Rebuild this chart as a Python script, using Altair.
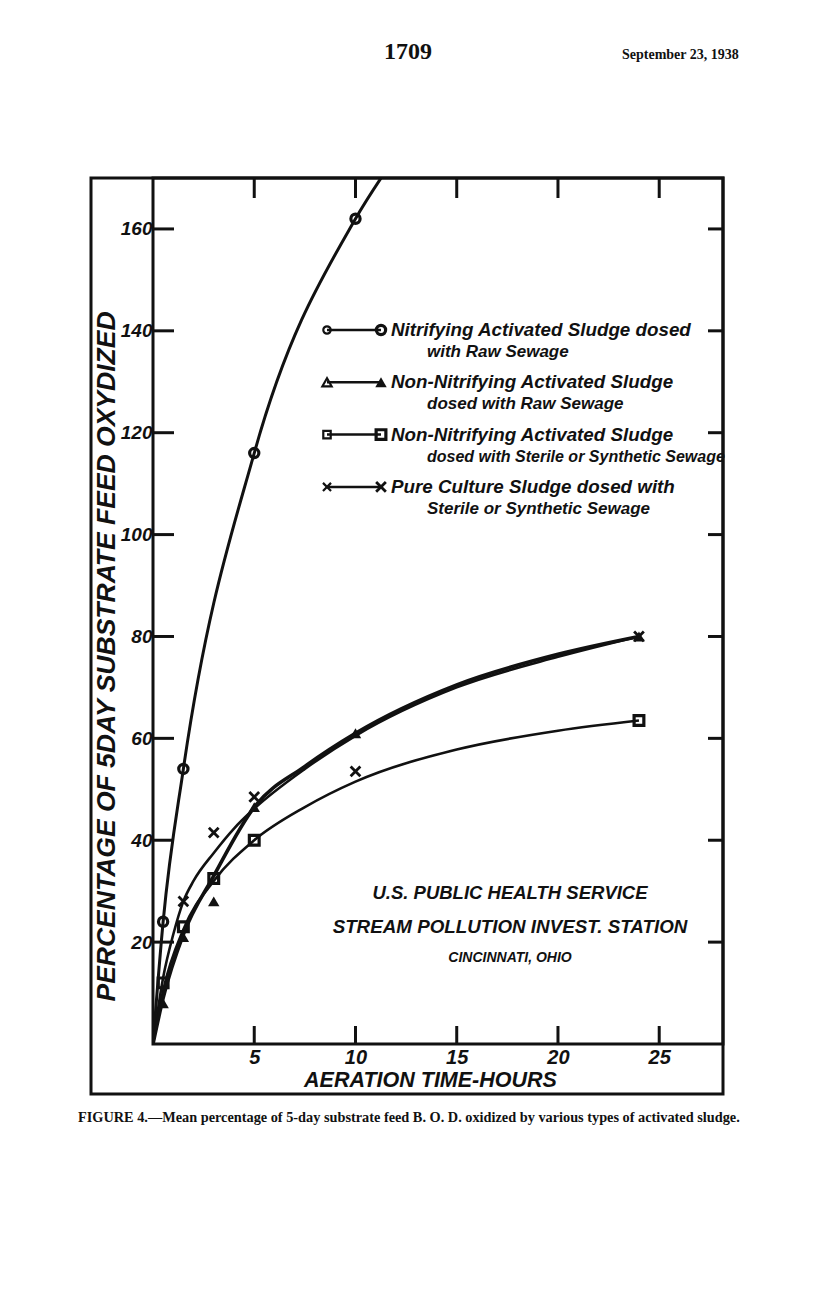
import altair as alt
import pandas as pd

# ---------------- measured points (hours, percent) ----------------
circle_hours = [0.5, 1.5, 5, 10]
circle_pct = [24, 54, 116, 162]

tri_hours = [0.5, 1.5, 3, 5, 10, 24]
tri_pct = [8, 21, 28, 46.5, 61, 80]

square_hours = [0.5, 1.5, 3, 5, 24]
square_pct = [12, 23, 32.5, 40, 63.5]

cross_hours = [1.5, 3, 5, 10, 24]
cross_pct = [28, 41.5, 48.5, 53.5, 80]

# ---------------- fitted (hand drawn) curves ----------------
nit_curve_hours = [0, 0.5, 1.5, 5, 10, 11.6]
nit_curve_pct = [0, 24, 54, 116, 162, 172]

tri_curve_hours = [0, 0.5, 1.5, 3, 5, 7.5, 10, 15, 20, 24]
tri_curve_pct = [0, 9, 21.5, 33, 46.5, 54.5, 61, 70.5, 76.5, 80]

square_curve_hours = [0, 0.5, 1.5, 3, 5, 7.5, 10, 15, 20, 24]
square_curve_pct = [0, 10.5, 22.5, 32, 40, 46.5, 51.5, 57.8, 61.5, 63.5]

cross_curve_hours = [0, 0.5, 1, 1.5, 2, 3, 4, 5, 7.5, 10, 15, 20, 24]
cross_curve_pct = [0, 13, 21.5, 28, 32, 37.5, 42.3, 46.2, 54, 60.5, 70, 76, 80]

x_tick_values = [5, 10, 15, 20, 25]
y_tick_values = [20, 40, 60, 80, 100, 120, 140, 160]

legend_line1 = [
    "Nitrifying Activated Sludge dosed",
    "Non-Nitrifying  Activated Sludge",
    "Non-Nitrifying Activated Sludge",
    "Pure Culture Sludge dosed with",
]
legend_line2 = [
    "with Raw Sewage",
    "dosed with Raw Sewage",
    "dosed with Sterile or Synthetic Sewage",
    "Sterile or Synthetic Sewage",
]
annotation_lines = [
    "U.S. PUBLIC HEALTH SERVICE",
    "STREAM POLLUTION INVEST. STATION",
    "CINCINNATI, OHIO",
]
page_number = "1709"
page_date = "September 23, 1938"
caption = ("FIGURE 4.\u2014Mean percentage of 5-day substrate feed B. O. D. "
           "oxidized by various types of activated sludge.")
x_title = "AERATION TIME-HOURS"
y_title = "PERCENTAGE OF 5DAY SUBSTRATE FEED OXYDIZED"

# ---------------- layout / style ----------------
W, H = 570, 866
HAND = "Liberation Sans"
SERIF = "Liberation Serif"
INK = "#111111"

xs = alt.Scale(domain=[0, 28.15], nice=False, zero=False)
ys = alt.Scale(domain=[0, 170], nice=False, zero=False)

x_axis = alt.Axis(
    values=x_tick_values, ticks=False, domain=False, grid=False,
    labelFont=HAND, labelFontSize=20, labelFontStyle="italic",
    labelFontWeight="bold", labelColor=INK, labelPadding=3,
    title=x_title, titleFont=HAND, titleFontSize=21.5, titleFontStyle="italic",
    titleFontWeight="bold", titleColor=INK, titleX=277, titleY=36,
    titleBaseline="middle", titleAlign="center",
)
y_axis = alt.Axis(
    values=y_tick_values, ticks=False, domain=False, grid=False, format="d",
    labelFont=HAND, labelFontSize=19, labelFontStyle="italic",
    labelFontWeight="bold", labelColor=INK, labelPadding=1,
    title=y_title, titleFont=HAND, titleFontSize=26.5, titleFontStyle="italic",
    titleFontWeight="bold", titleColor=INK, titleAngle=270, titleX=-47,
    titleY=478, titleBaseline="middle", titleAlign="center",
)

X_PATH = "M-1,-1L1,1M1,-1L-1,1"
marker_styles = [
    dict(shape="circle", filled=False, strokeWidth=3.2, size=85),
    dict(shape="triangle-up", filled=True, size=130),
    dict(shape="square", filled=False, strokeWidth=3.2, size=95),
    dict(shape=X_PATH, filled=False, strokeWidth=2.8, size=95),
]
legend_open_styles = [
    dict(shape="circle", filled=False, strokeWidth=2.2, size=55),
    dict(shape="triangle-up", filled=False, strokeWidth=2.2, size=85),
    dict(shape="square", filled=False, strokeWidth=2.2, size=55),
    dict(shape=X_PATH, filled=False, strokeWidth=2.2, size=65),
]

one = pd.DataFrame({"k": [0]})


def xq(field):
    return alt.X(field, type="quantitative", scale=xs, axis=x_axis)


def yq(field):
    return alt.Y(field, type="quantitative", scale=ys, axis=y_axis)


def curve(hours, pct, width):
    df = pd.DataFrame({"hours": hours, "pct": pct})
    return alt.Chart(df).mark_line(
        interpolate="monotone", color=INK, strokeWidth=width, clip=True
    ).encode(x=xq("hours"), y=yq("pct"))


def points(hours, pct, style):
    df = pd.DataFrame({"hours": hours, "pct": pct})
    return alt.Chart(df).mark_point(color=INK, opacity=1, **style).encode(
        x=xq("hours"), y=yq("pct"))


def text_at(label, x, y, size, font=HAND, style="italic", weight="bold",
            align="left", baseline="middle"):
    df = pd.DataFrame({"label": [label]})
    return alt.Chart(df).mark_text(
        font=font, fontSize=size, fontStyle=style, fontWeight=weight,
        align=align, baseline=baseline, color=INK
    ).encode(text="label:N", x=alt.value(x), y=alt.value(y))


xt = pd.DataFrame({"v": x_tick_values})
yt = pd.DataFrame({"v": y_tick_values})

top_ticks = alt.Chart(xt).mark_rule(color=INK, strokeWidth=3).encode(
    x=xq("v"), y=alt.value(0), y2=alt.value(20))
bottom_ticks = alt.Chart(xt).mark_rule(color=INK, strokeWidth=3).encode(
    x=xq("v"), y=alt.value(H), y2=alt.value(H - 18))
left_ticks = alt.Chart(yt).mark_rule(color=INK, strokeWidth=3).encode(
    y=yq("v"), x=alt.value(0), x2=alt.value(21))
right_ticks = alt.Chart(yt).mark_rule(color=INK, strokeWidth=3).encode(
    y=yq("v"), x=alt.value(W), x2=alt.value(W - 15))

outer_frame = alt.Chart(one).mark_rect(
    fillOpacity=0, stroke=INK, strokeWidth=3
).encode(x=alt.value(-62), x2=alt.value(W), y=alt.value(0), y2=alt.value(916))

layers = [outer_frame, top_ticks, bottom_ticks, left_ticks, right_ticks]

# curves
layers += [
    curve(nit_curve_hours, nit_curve_pct, 3),
    curve(square_curve_hours, square_curve_pct, 2.6),
    curve(cross_curve_hours, cross_curve_pct, 2.6),
    curve(tri_curve_hours, tri_curve_pct, 3.6),
]
# markers
layers += [
    points(circle_hours, circle_pct, marker_styles[0]),
    points(tri_hours, tri_pct, marker_styles[1]),
    points(square_hours, square_pct, marker_styles[2]),
    points(cross_hours, cross_pct, marker_styles[3]),
]

# hand drawn legend block
for i in range(4):
    ry = 152 + i * 52.3
    layers.append(alt.Chart(one).mark_rule(color=INK, strokeWidth=2.5).encode(
        x=alt.value(174), x2=alt.value(228), y=alt.value(ry)))
    layers.append(alt.Chart(one).mark_point(color=INK, opacity=1, **legend_open_styles[i]).encode(
        x=alt.value(174), y=alt.value(ry)))
    layers.append(alt.Chart(one).mark_point(color=INK, opacity=1, **marker_styles[i]).encode(
        x=alt.value(228), y=alt.value(ry)))
    layers.append(text_at(legend_line1[i], 238, ry, 18.8))
    size2 = 16 if len(legend_line2[i]) > 30 else 17
    layers.append(text_at(legend_line2[i], 274, ry + 22, size2))

# station annotation
ann_y = [715, 749, 780]
ann_size = [18.5, 18.8, 14]
for line, yy, sz in zip(annotation_lines, ann_y, ann_size):
    layers.append(text_at(line, 357, yy, sz, align="center"))

# page header and caption
layers.append(text_at(page_number, 255, -126, 24, font=SERIF, style="normal", align="center"))
layers.append(text_at(page_date, 469, -123, 14, font=SERIF, style="normal"))
layers.append(text_at(caption, -75, 940, 14.3, font=SERIF, style="normal"))

chart = alt.layer(*layers).properties(
    width=W, height=H,
    autosize=alt.AutoSizeParams(type="none"),
    padding={"left": 145, "top": 170, "right": 40, "bottom": 130},
    background="white",
).configure_view(stroke=INK, strokeWidth=3)

chart.save("out.html", embed_options={"renderer": "svg", "actions": False})
